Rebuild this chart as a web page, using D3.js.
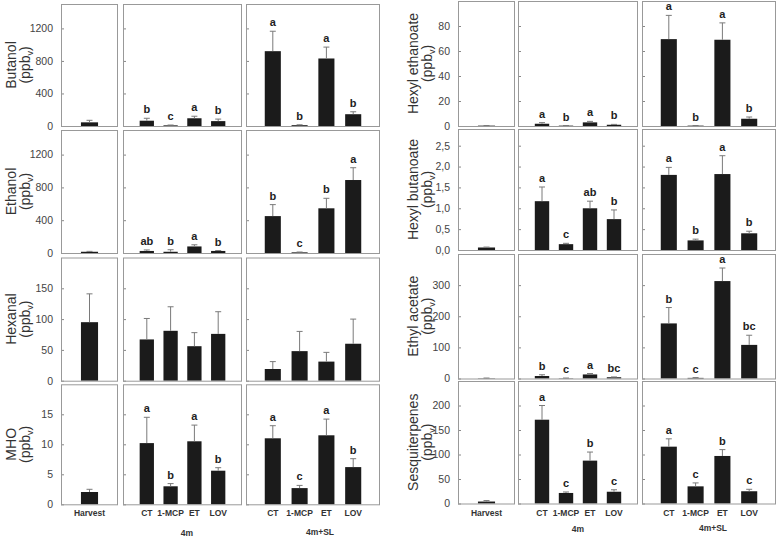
<!DOCTYPE html>
<html><head><meta charset="utf-8">
<script src="https://cdn.jsdelivr.net/npm/d3@7"></script>
<style>body{margin:0;background:#fff}svg{display:block}</style>
</head><body>
<svg id="chart" width="778" height="536"></svg>
<script>
// ---------- data ----------
const compounds = ["Butanol","Ethanol","Hexanal","MHO","Hexyl ethanoate","Hexyl butanoate","Ethyl acetate","Sesquiterpenes"];
const harvestCats = ["Harvest"];
const treatments = ["CT","1-MCP","ET","LOV"];
const groups = ["4m","4m+SL"];
// order: Harvest, 4m (CT,1-MCP,ET,LOV), 4m+SL (CT,1-MCP,ET,LOV)
const butanolMean = [45, 65, 8, 95, 60, 920, 10, 830, 145];
const butanolErr  = [25, 30, 4, 25, 25, 245, 5, 140, 30];
const butanolLetters = ["", "b","c","a","b", "a","b","a","b"];
const ethanolMean = [15, 25, 15, 80, 25, 450, 8, 545, 890];
const ethanolErr  = [5, 12, 25, 20, 5, 140, 4, 122, 150];
const ethanolLetters = ["", "ab","b","a","b", "b","c","b","a"];
const hexanalMean = [95, 67, 81, 56, 76, 19, 48, 31, 60];
const hexanalErr  = [46, 34, 39, 22, 36, 12, 32, 15, 40];
const hexanalLetters = ["", "","","","", "","","",""];
const mhoMean = [2.05, 10.2, 3.0, 10.5, 5.6, 11.0, 2.7, 11.5, 6.2];
const mhoErr  = [0.45, 4.3, 0.45, 2.7, 0.5, 2.1, 0.45, 2.7, 1.4];
const mhoLetters = ["", "a","b","a","b", "a","c","a","b"];
const hexEthMean = [0.3, 1.8, 0.3, 2.9, 1.0, 69.5, 0.3, 69, 5.8];
const hexEthErr  = [0.1, 0.9, 0.1, 0.8, 0.3, 19, 0.1, 13.5, 1.4];
const hexEthLetters = ["", "a","b","a","b", "a","b","a","b"];
const hexButMean = [0.06, 1.17, 0.14, 1.0, 0.74, 1.8, 0.23, 1.82, 0.4];
const hexButErr  = [0.01, 0.34, 0.02, 0.17, 0.22, 0.18, 0.03, 0.44, 0.05];
const hexButLetters = ["", "a","c","ab","b", "a","b","a","b"];
const ethAcMean = [1, 8, 1, 13, 4, 177, 2, 313, 108];
const ethAcErr  = [0.5, 4, 0.5, 3, 1, 51, 1, 42, 31];
const ethAcLetters = ["", "b","c","a","bc", "b","c","a","bc"];
const sesqMean = [4, 171, 21.5, 87.5, 24, 116, 35, 97, 25];
const sesqErr  = [2, 29, 2, 17.5, 4, 16, 7, 13, 4];
const sesqLetters = ["", "a","c","b","c", "a","c","b","c"];
const yMax = [1500, 1500, 200, 20, 100, 2.9, 400, 250];
const butanolTicks = [0,400,800,1200];
const ethanolTicks = [0,400,800,1200];
const hexanalTicks = [0,50,100,150];
const mhoTicks = [0,5,10,15];
const hexEthTicks = [0,20,40,60,80];
const hexButTicks = [0,0.5,1,1.5,2,2.5];
const ethAcTicks = [0,100,200,300];
const sesqTicks = [0,50,100,150,200];

const means = [butanolMean, ethanolMean, hexanalMean, mhoMean, hexEthMean, hexButMean, ethAcMean, sesqMean];
const errs = [butanolErr, ethanolErr, hexanalErr, mhoErr, hexEthErr, hexButErr, ethAcErr, sesqErr];
const letters = [butanolLetters, ethanolLetters, hexanalLetters, mhoLetters, hexEthLetters, hexButLetters, ethAcLetters, sesqLetters];
const ticks = [butanolTicks, ethanolTicks, hexanalTicks, mhoTicks, hexEthTicks, hexButTicks, ethAcTicks, sesqTicks];

// ---------- layout ----------
const cols = [
  {x: [[61,118],[123,242],[246,380]], titleX: [16,30],
   rows: [[4,126],[130,253],[257.5,380.7],[384.3,504.3]],
   xLabY: 516, grpLab: [[187,535.5],[320,535]]},
  {x: [[458,515],[518,638],[642,776]], titleX: [418,432],
   rows: [[1,126],[129,250],[254,378.5],[381,503.5]],
   xLabY: 515.5, grpLab: [[578,531.5],[713,531]]}
];
const commaFmt = d3.formatLocale({decimal: ",", thousands: ".", grouping: [3], currency: ["", ""]});
const svg = d3.select("#chart");
const font = "Liberation Sans, Arial, sans-serif";

compounds.forEach((name, i) => {
  const col = cols[Math.floor(i / 4)];
  const row = i % 4;
  const [top, bottom] = col.rows[row];
  const y = d3.scaleLinear().domain([0, yMax[i]]).range([bottom, top]);
  const fmt = i === 5 ? commaFmt.format(".1f") : d3.format("d");
  const panels = [
    {cats: harvestCats, idx: [0]},
    {cats: treatments, idx: [1,2,3,4]},
    {cats: treatments, idx: [5,6,7,8]}
  ];
  panels.forEach((p, pi) => {
    const [x0, x1] = col.x[pi];
    const x = d3.scaleBand().domain(p.cats).range([x0, x1]).paddingInner(0.4).paddingOuter(0.7);
    const g = svg.append("g");
    const ax = d3.axisLeft(y).tickValues(ticks[i]).tickSize(-3).tickPadding(8)
      .tickFormat(pi === 0 ? fmt : () => "");
    const ag = g.append("g").attr("transform", `translate(${x0},0)`).call(ax);
    ag.select(".domain").remove();
    ag.selectAll(".tick line").attr("stroke", "#888");
    ag.selectAll(".tick text").attr("fill", "#444").style("font-family", font).style("font-size", "10.5px");
    const data = p.idx.map((k, j) => ({cat: p.cats[j], v: means[i][k], e: errs[i][k], l: letters[i][k]}));
    g.selectAll("rect.bar").data(data).join("rect").attr("class","bar")
      .attr("x", d => x(d.cat)).attr("width", x.bandwidth())
      .attr("y", d => y(d.v)).attr("height", d => y(0) - y(d.v))
      .attr("fill", "#1b1b1b");
    g.selectAll("line.err").data(data).join("line").attr("class","err")
      .attr("x1", d => x(d.cat) + x.bandwidth()/2).attr("x2", d => x(d.cat) + x.bandwidth()/2)
      .attr("y1", d => y(d.v)).attr("y2", d => y(d.v + d.e))
      .attr("stroke", "#7a7a7a").attr("stroke-width", 1);
    g.selectAll("line.cap").data(data).join("line").attr("class","cap")
      .attr("x1", d => x(d.cat) + x.bandwidth()/2 - 3).attr("x2", d => x(d.cat) + x.bandwidth()/2 + 3)
      .attr("y1", d => y(d.v + d.e)).attr("y2", d => y(d.v + d.e))
      .attr("stroke", "#7a7a7a").attr("stroke-width", 1);
    g.selectAll("text.sig").data(data.filter(d => d.l)).join("text").attr("class","sig")
      .attr("x", d => x(d.cat) + x.bandwidth()/2).attr("y", d => y(d.v + d.e) - 5)
      .attr("text-anchor", "middle").attr("fill", "#222")
      .style("font-family", font).style("font-size", "11px").style("font-weight", "bold")
      .text(d => d.l);
    g.append("rect").attr("x", x0 + 0.5).attr("y", top + 0.5).attr("width", x1 - x0 - 1).attr("height", bottom - top)
      .attr("fill", "none").attr("stroke", "#999").attr("stroke-width", 1);
    if (row === 3) {
      g.selectAll("text.xl").data(p.cats).join("text").attr("class","xl")
        .attr("x", d => x(d) + x.bandwidth()/2).attr("y", col.xLabY)
        .attr("text-anchor","middle").attr("fill","#333")
        .style("font-family", font).style("font-size","8.5px").style("font-weight","bold")
        .text(d => d);
    }
  });
  const cy = (top + bottom) / 2;
  svg.append("text").attr("transform", `translate(${col.titleX[0]},${cy}) rotate(-90)`)
    .attr("text-anchor","middle").attr("fill","#333")
    .style("font-family", font).style("font-size","14px").text(name);
  const t2 = svg.append("text").attr("transform", `translate(${col.titleX[1]},${cy}) rotate(-90)`)
    .attr("text-anchor","middle").attr("fill","#333")
    .style("font-family", font).style("font-size","14px");
  t2.append("tspan").text("(ppb");
  t2.append("tspan").attr("dy", 3).style("font-size","9px").text("v");
  t2.append("tspan").attr("dy", -3).text(")");
});

cols.forEach(col => {
  groups.forEach((gname, k) => {
    svg.append("text").attr("x", col.grpLab[k][0]).attr("y", col.grpLab[k][1])
      .attr("text-anchor","middle").attr("fill","#333")
      .style("font-family", font).style("font-size","8.5px").style("font-weight","bold")
      .text(gname);
  });
});
</script>
</body></html>
